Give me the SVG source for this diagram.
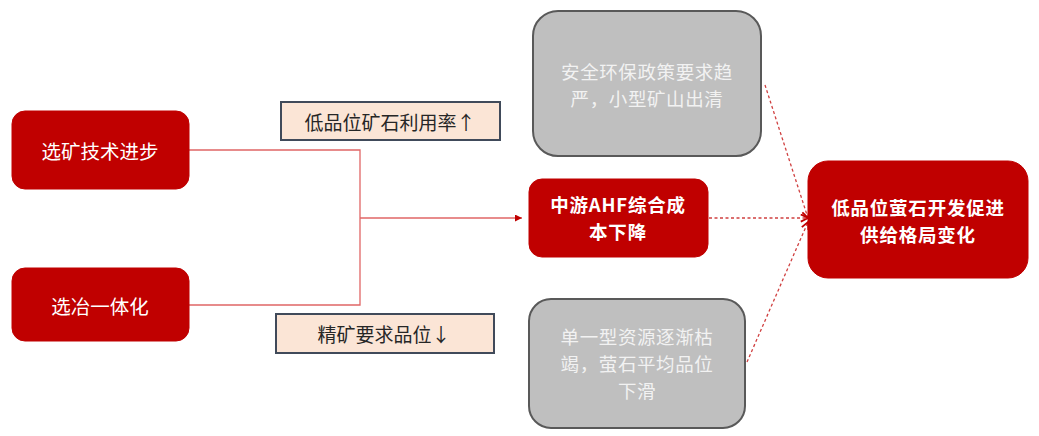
<svg xmlns="http://www.w3.org/2000/svg" width="1039" height="436" viewBox="0 0 1039 436">
<style>
.red{fill:#C00000;stroke:#C00000;stroke-width:1}
.gray{fill:#BFBFBF;stroke:#595959;stroke-width:2}
.lab{fill:#FBE5D6;stroke:#404A5A;stroke-width:2}
text{font-family:"Noto Sans CJK SC","Liberation Sans",sans-serif;text-anchor:middle;dominant-baseline:central}
.w{fill:#FFFFFF;font-size:19.5px}
.wb{fill:#FFFFFF;font-size:18.5px;font-weight:bold;letter-spacing:0.8px}
.g{fill:#F2F2F2;font-size:18.5px;letter-spacing:0.6px}
.k{fill:#262626;font-size:19px}
.solid{fill:none;stroke:#E06666;stroke-width:1.3}
.dash{fill:none;stroke:#D04040;stroke-width:1.3;stroke-dasharray:3 2.5}
</style>
<defs>
<marker id="tri" viewBox="0 0 10 10" refX="10" refY="5" markerWidth="7" markerHeight="7" markerUnits="userSpaceOnUse" orient="auto">
<path d="M0,0 L10,5 L0,10 Z" fill="#C00000"/>
</marker>
<marker id="open" viewBox="0 0 10 10" refX="9" refY="5" markerWidth="9" markerHeight="9" markerUnits="userSpaceOnUse" orient="auto">
<path d="M1,1 L9,5 L1,9" fill="none" stroke="#C00000" stroke-width="2"/>
</marker>
</defs>
<g id="connectors">
<path class="solid" d="M189,150 H360 V305 H189"/>
<path class="solid" d="M360,218 H522" marker-end="url(#tri)"/>
<path class="dash" d="M765,85 L808,218" marker-end="url(#open)"/>
<path class="dash" d="M709,218 H808" marker-end="url(#open)"/>
<path class="dash" d="M747,362 L808,222" marker-end="url(#open)"/>
</g>
<g id="n1">
<rect class="red" x="12" y="111" width="177" height="78" rx="13"/>
<text class="w" x="100" y="150">选矿技术进步</text>
</g>
<g id="n2">
<rect class="red" x="12" y="268" width="177" height="73" rx="13"/>
<text class="w" x="100" y="305">选冶一体化</text>
</g>
<g id="l1">
<rect class="lab" x="281" y="102" width="219" height="38"/>
<text class="k" x="390" y="121">低品位矿石利用率↑</text>
</g>
<g id="l2">
<rect class="lab" x="276" y="314" width="218" height="39"/>
<text class="k" x="384" y="333">精矿要求品位↓</text>
</g>
<g id="n3">
<rect class="red" x="529" y="179" width="179" height="78" rx="13"/>
<text class="wb" x="618" y="203.5">中游AHF综合成</text>
<text class="wb" x="618" y="230.5">本下降</text>
</g>
<g id="n4">
<rect class="gray" x="533" y="11" width="228" height="145" rx="25"/>
<text class="g" x="647" y="71">安全环保政策要求趋</text>
<text class="g" x="647" y="98">严，小型矿山出清</text>
</g>
<g id="n5">
<rect class="gray" x="529" y="299" width="216" height="129" rx="22"/>
<text class="g" x="637" y="336">单一型资源逐渐枯</text>
<text class="g" x="637" y="363">竭，萤石平均品位</text>
<text class="g" x="637" y="390">下滑</text>
</g>
<g id="n6">
<rect class="red" x="808" y="161" width="220" height="117" rx="20"/>
<text class="wb" x="918" y="206.5">低品位萤石开发促进</text>
<text class="wb" x="918" y="233.5">供给格局变化</text>
</g>
</svg>
